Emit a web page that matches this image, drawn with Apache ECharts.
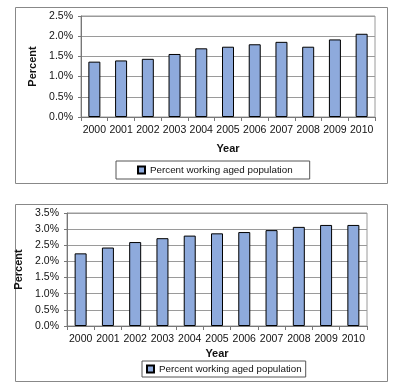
<!DOCTYPE html>
<html><head><meta charset="utf-8">
<script src="https://cdn.jsdelivr.net/npm/echarts@6/dist/echarts.min.js"></script>
<style>html,body{margin:0;padding:0;background:#fff}#c{width:400px;height:388px}</style>
</head><body><div id="c"></div>
<script>
var years = ['2000','2001','2002','2003','2004','2005','2006','2007','2008','2009','2010'];
var topValues = [1.37, 1.40, 1.44, 1.56, 1.70, 1.74, 1.80, 1.86, 1.74, 1.92, 2.06];
var bottomValues = [2.25, 2.43, 2.60, 2.72, 2.80, 2.87, 2.91, 2.97, 3.07, 3.13, 3.13];
var seriesName = 'Percent working aged population';
var xTitle = 'Year';
var yTitle = 'Percent';

var font = 'Liberation Sans, Arial, sans-serif';
var barColor = '#8eaadc';
var gridColor = '#9a9a9a';

function xAxisCfg(gi) {
  return {
    type: 'category', gridIndex: gi, data: years,
    name: xTitle, nameLocation: 'middle', nameGap: gi === 0 ? 26 : 22,
    nameTextStyle: {fontFamily: font, fontWeight: 'bold', fontSize: 11, color: '#111'},
    axisLine: {lineStyle: {color: '#777', width: 1}},
    axisTick: {show: true, length: 4, lineStyle: {color: '#777'}},
    axisLabel: {fontFamily: font, fontSize: 10.5, color: '#111', margin: 8, interval: 0}
  };
}
function yAxisCfg(gi, max) {
  return {
    type: 'value', gridIndex: gi, min: 0, max: max, interval: 0.5,
    name: yTitle, nameLocation: 'middle', nameGap: gi === 0 ? 32 : 35,
    nameTextStyle: {fontFamily: font, fontWeight: 'bold', fontSize: 11, color: '#111'},
    axisLine: {show: true, lineStyle: {color: '#777'}},
    axisTick: {show: true, length: 3, lineStyle: {color: '#777'}},
    splitLine: {show: true, lineStyle: {color: gridColor, width: 1}},
    axisLabel: {fontFamily: font, fontSize: 10.5, color: '#111', margin: 8,
      formatter: function (v) { return v.toFixed(1) + '%'; }}
  };
}

var chart = echarts.init(document.getElementById('c'), null, {renderer: 'canvas'});
chart.setOption({
  animation: false,
  backgroundColor: '#fff',
  graphic: [
    {type: 'rect', shape: {x: 15.5, y: 7.5, width: 372, height: 176}, style: {fill: 'none', stroke: '#888', lineWidth: 1}, z: -1},
    {type: 'rect', shape: {x: 15.5, y: 204.5, width: 372, height: 177}, style: {fill: 'none', stroke: '#888', lineWidth: 1}, z: -1}
  ],
  grid: [
    {left: 81, top: 16, width: 294, height: 101, show: true, borderColor: gridColor, borderWidth: 1},
    {left: 67, top: 213, width: 300, height: 113, show: true, borderColor: gridColor, borderWidth: 1}
  ],
  legend: [
    {left: 116, top: 161, orient: 'horizontal', data: [{name: seriesName, icon: 'rect'}],
     itemWidth: 7, itemHeight: 7, itemGap: 5, borderColor: '#555', borderWidth: 1,
     padding: [4, 17, 4, 21], textStyle: {fontFamily: font, fontSize: 9.8, color: '#111'}},
    {left: 142, top: 361, orient: 'horizontal', data: [{name: seriesName, icon: 'rect'}],
     itemWidth: 7, itemHeight: 7, itemGap: 5, borderColor: '#555', borderWidth: 1,
     padding: [3, 4, 3, 4], textStyle: {fontFamily: font, fontSize: 9.8, color: '#111'}}
  ],
  xAxis: [xAxisCfg(0), xAxisCfg(1)],
  yAxis: [yAxisCfg(0, 2.5), yAxisCfg(1, 3.5)],
  series: [
    {name: seriesName, type: 'bar', xAxisIndex: 0, yAxisIndex: 0, data: topValues, barWidth: 12,
     itemStyle: {color: barColor, borderColor: '#000', borderWidth: 1}},
    {name: seriesName, type: 'bar', xAxisIndex: 1, yAxisIndex: 1, data: bottomValues, barWidth: 12,
     itemStyle: {color: barColor, borderColor: '#000', borderWidth: 1}}
  ]
});
</script></body></html>
